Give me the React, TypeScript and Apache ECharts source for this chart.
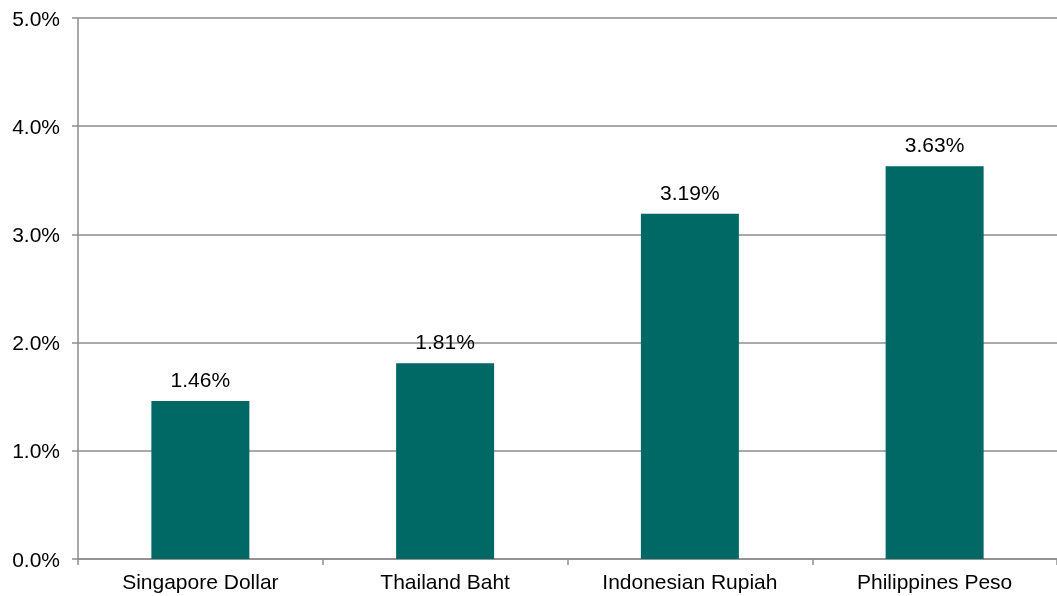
import React, { useEffect, useRef } from "react";
import * as echarts from "echarts";

const categories = ["Singapore Dollar", "Thailand Baht", "Indonesian Rupiah", "Philippines Peso"];
const values = [1.46, 1.81, 3.19, 3.63];
const yTicks = [0, 1, 2, 3, 4, 5];

export default function App() {
  const ref = useRef<HTMLDivElement>(null);
  useEffect(() => {
    const chart = echarts.init(ref.current!, null, { renderer: "svg" });
    const font = "Liberation Sans, Arial, sans-serif";
    chart.setOption({
      animation: false,
      grid: { left: 78, width: 987, top: 18, bottom: 37, containLabel: false },
      xAxis: {
        type: "category",
        data: categories,
        axisLine: { lineStyle: { color: "#8c8c8c", width: 1.5 } },
        axisTick: { show: true, length: 6, lineStyle: { color: "#8c8c8c", width: 1.5 } },
        axisLabel: { color: "#000", fontSize: 21, fontFamily: font, margin: 12 },
      },
      yAxis: {
        type: "value",
        min: yTicks[0],
        max: yTicks[yTicks.length - 1],
        interval: 1,
        axisLine: { show: true, lineStyle: { color: "#8c8c8c", width: 1.5 } },
        axisTick: { show: true, length: 6, lineStyle: { color: "#8c8c8c", width: 1.5 } },
        splitLine: { lineStyle: { color: "#8c8c8c", width: 1.5 } },
        axisLabel: {
          color: "#000",
          fontSize: 21,
          fontFamily: font,
          margin: 18,
          formatter: (v: number) => v.toFixed(1) + "%",
        },
      },
      series: [
        {
          type: "bar",
          data: values,
          barWidth: 98,
          itemStyle: { color: "#006865" },
          label: {
            show: true,
            position: "top",
            distance: 11,
            color: "#000",
            fontSize: 21,
            fontFamily: font,
            formatter: (p: any) => p.value.toFixed(2) + "%",
          },
        },
      ],
    });
    return () => chart.dispose();
  }, []);
  return <div ref={ref} style={{ position: "fixed", left: 0, top: 0, width: 1057, height: 596 }} />;
}
